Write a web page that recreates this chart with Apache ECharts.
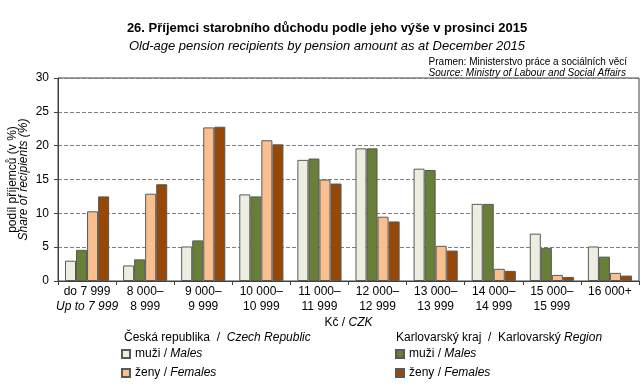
<!DOCTYPE html>
<html>
<head>
<meta charset="utf-8">
<script src="https://cdn.jsdelivr.net/npm/echarts@6/dist/echarts.min.js"></script>
<style>html,body{margin:0;padding:0;background:#fff}#c{width:641px;height:392px}</style>
</head>
<body>
<div id="c"></div>
<script>
var catTop = ['do 7\u00a0999','8\u00a0000–','9\u00a0000–','10\u00a0000–','11\u00a0000–','12\u00a0000–','13\u00a0000–','14\u00a0000–','15\u00a0000–','16\u00a0000+'];
var catBottom = ['Up to 7\u00a0999','8\u00a0999','9\u00a0999','10\u00a0999','11\u00a0999','12\u00a0999','13\u00a0999','14\u00a0999','15\u00a0999',''];
var crMales   = [3.0, 2.3, 5.1, 12.8, 17.9, 19.6, 16.6, 11.4, 7.0, 5.1];
var kkMales   = [4.6, 3.2, 6.0, 12.5, 18.1, 19.6, 16.4, 11.4, 4.9, 3.6];
var crFemales = [10.3, 12.9, 22.7, 20.8, 15.0, 9.5, 5.2, 1.8, 0.9, 1.2];
var kkFemales = [12.5, 14.3, 22.8, 20.2, 14.4, 8.8, 4.5, 1.5, 0.6, 0.8];
var yTicks = [0, 5, 10, 15, 20, 25, 30];

var FONT = 'Liberation Sans, Arial, sans-serif';
var chart = echarts.init(document.getElementById('c'), null, {renderer: 'canvas'});
var border = '#595959';
function bar(name, data, color) {
  return {
    name: name, type: 'bar', data: data,
    barGap: '0%', barCategoryGap: '24%',
    itemStyle: {color: color, borderColor: border, borderWidth: 1},
    emphasis: {disabled: true}
  };
}
var legendNames = {
  crM: 'muži / {i|Males}', crF: 'ženy / {i|Females}',
  kkM: 'muži / {i|Males}', kkF: 'ženy / {i|Females}'
};
var legendText = {
  fontFamily: FONT, fontSize: 12, color: '#000',
  rich: {i: {fontFamily: FONT, fontSize: 12, fontStyle: 'italic', color: '#000'}}
};
chart.setOption({
  animation: false,
  backgroundColor: '#fff',
  textStyle: {fontFamily: FONT},
  title: [
    {text: '26. Příjemci starobního důchodu podle jeho výše v prosinci 2015', left: 322, textAlign: 'center', top: 17,
     textStyle: {fontFamily: FONT, fontSize: 13, fontWeight: 'bold', color: '#000'}},
    {text: 'Old-age pension recipients by pension amount as at December 2015', left: 322, textAlign: 'center', top: 35,
     textStyle: {fontFamily: FONT, fontSize: 13, fontStyle: 'italic', fontWeight: 'normal', color: '#000'}},
    {text: 'Pramen: Ministerstvo práce a sociálních věcí\n{i|Source: Ministry of Labour and Social Affairs}', right: 9, top: 52,
     textStyle: {fontFamily: FONT, fontSize: 10, fontWeight: 'normal', color: '#000', lineHeight: 11, align: 'right',
       rich: {i: {fontFamily: FONT, fontSize: 10, fontStyle: 'italic', color: '#000', lineHeight: 11}}}},
    {text: 'Česká republika  /  {i|Czech Republic}', left: 119, top: 327,
     textStyle: {fontFamily: FONT, fontSize: 12, fontWeight: 'normal', color: '#000',
       rich: {i: {fontFamily: FONT, fontSize: 12, fontStyle: 'italic', color: '#000'}}}},
    {text: 'Karlovarský kraj  /  Karlovarský {i|Region}', left: 391, top: 327,
     textStyle: {fontFamily: FONT, fontSize: 12, fontWeight: 'normal', color: '#000',
       rich: {i: {fontFamily: FONT, fontSize: 12, fontStyle: 'italic', color: '#000'}}}}
  ],
  legend: [
    {data: ['crM', 'crF'], orient: 'vertical', left: 121, top: 348, itemWidth: 8, itemHeight: 8, itemGap: 7,
     icon: 'rect', selectedMode: false, formatter: function (n) { return legendNames[n]; }, textStyle: legendText, padding: 0},
    {data: ['kkM', 'kkF'], orient: 'vertical', left: 395, top: 348, itemWidth: 8, itemHeight: 8, itemGap: 7,
     icon: 'rect', selectedMode: false, formatter: function (n) { return legendNames[n]; }, textStyle: legendText, padding: 0}
  ],
  grid: {left: 58, right: 2, top: 78, bottom: 111, show: true, borderColor: '#404040', borderWidth: 1,
         containLabel: false, outerBoundsMode: 'none'},
  xAxis: {
    type: 'category', data: catTop,
    axisLine: {lineStyle: {color: '#404040'}},
    axisTick: {show: true, length: 4, lineStyle: {color: '#404040'}},
    axisLabel: {
      margin: 3, fontFamily: FONT, fontSize: 12, color: '#000', lineHeight: 15, interval: 0,
      formatter: function (v, i) {
        if (i === 0) return v + '\n{i|' + catBottom[i] + '}';
        return catBottom[i] ? v + '\n' + catBottom[i] : v;
      },
      rich: {i: {fontFamily: FONT, fontSize: 12, fontStyle: 'italic', color: '#000', lineHeight: 15}}
    },
    name: 'Kč / {i|CZK}', nameLocation: 'middle', nameGap: 36, nameMoveOverlap: false,
    nameTextStyle: {fontFamily: FONT, fontSize: 12, color: '#000',
      rich: {i: {fontFamily: FONT, fontSize: 12, fontStyle: 'italic', color: '#000'}}}
  },
  yAxis: {
    type: 'value', min: yTicks[0], max: yTicks[yTicks.length - 1], interval: 5,
    axisLine: {show: true, lineStyle: {color: '#404040'}},
    axisTick: {show: true, length: 4, lineStyle: {color: '#404040'}},
    axisLabel: {margin: 9, fontFamily: FONT, fontSize: 12, color: '#000'},
    splitLine: {show: true, lineStyle: {color: '#808080', type: [4, 2], width: 1}},
    name: 'podíl příjemců (v %)\n{i|Share of recipients (%)}', nameLocation: 'middle', nameGap: 29, nameMoveOverlap: false,
    nameTextStyle: {fontFamily: FONT, fontSize: 12, color: '#000', lineHeight: 11,
      rich: {i: {fontFamily: FONT, fontSize: 12, fontStyle: 'italic', color: '#000', lineHeight: 11}}}
  },
  series: [
    bar('crM', crMales, '#ECEEDF'),
    bar('kkM', kkMales, '#687F38'),
    bar('crF', crFemales, '#FABF8F'),
    bar('kkF', kkFemales, '#974807')
  ]
});
</script>
</body>
</html>
